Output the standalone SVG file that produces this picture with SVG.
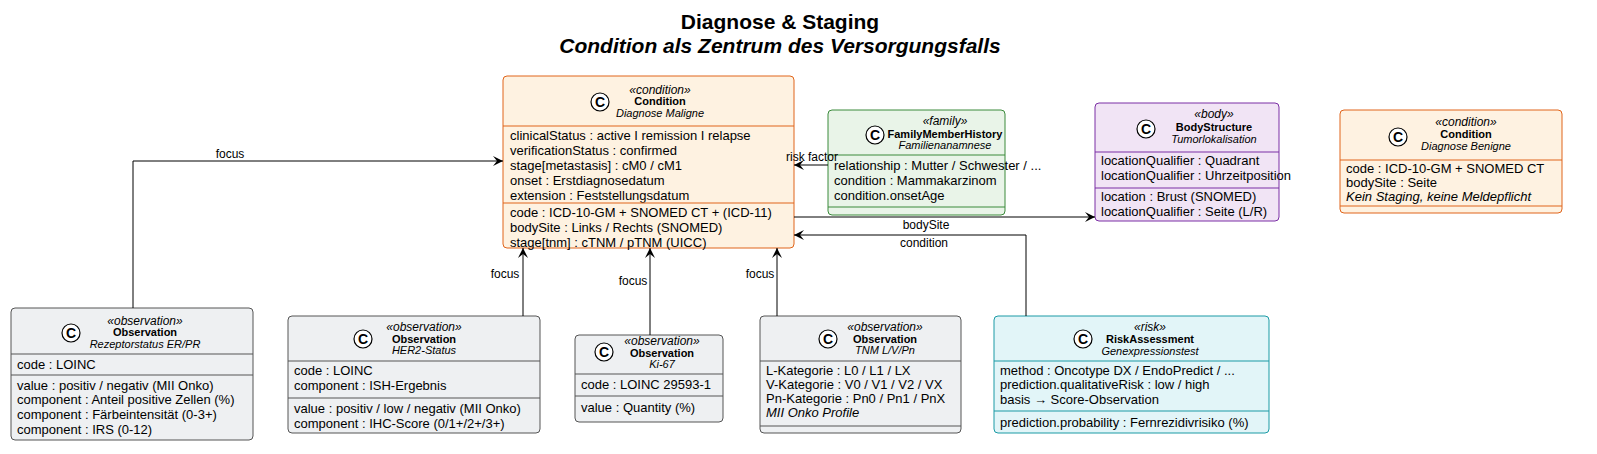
<svg xmlns="http://www.w3.org/2000/svg" width="1597" height="454" viewBox="0 0 1597 454">
<defs>
<marker id="ar" viewBox="0 0 10 10" refX="10" refY="5" markerWidth="10" markerHeight="10" orient="auto" markerUnits="userSpaceOnUse"><path d="M0,0 L10,5 L0,10 L4,5 Z" fill="#000"/></marker>
<g id="ci"><circle r="9" fill="#fff" stroke="#000" stroke-width="1.2"/><text y="5" text-anchor="middle" font-family="Liberation Sans, sans-serif" font-size="14" font-weight="bold">C</text></g>
</defs>
<style>
text{font-family:"Liberation Sans",Arial,sans-serif;fill:#000}
.st{font-size:12px;font-style:italic;text-anchor:middle}
.nm{font-size:11px;font-weight:bold;text-anchor:middle}
.sb{font-size:11px;font-style:italic;text-anchor:middle}
.at{font-size:13px}
.it{font-style:italic}
.lb{font-size:12px}
.cond rect{fill:#fef2e1;stroke:#e0641a}
.cond line{stroke:#e0641a}
.fam rect{fill:#e9f4e8;stroke:#3a8a3a}
.fam line{stroke:#3a8a3a}
.body rect{fill:#f1e4f5;stroke:#7b2fa5}
.body line{stroke:#7b2fa5}
.obs rect{fill:#eef0f2;stroke:#555}
.obs line{stroke:#555}
.risk rect{fill:#e2f5f8;stroke:#1a9aa5}
.risk line{stroke:#1a9aa5}
.conn path{fill:none;stroke:#000;stroke-width:1;marker-end:url(#ar)}
</style>
<rect width="1597" height="454" fill="#fff"/>
<text x="780" y="29" text-anchor="middle" font-size="21" font-weight="bold">Diagnose &amp; Staging</text>
<text x="780" y="53" text-anchor="middle" font-size="21" font-weight="bold" font-style="italic">Condition als Zentrum des Versorgungsfalls</text>

<g id="condMaligne" class="cond">
<rect x="503" y="76" width="291" height="172" rx="4"/>
<use href="#ci" x="600" y="102"/>
<text class="st" x="660" y="94">«condition»</text>
<text class="nm" x="660" y="105">Condition</text>
<text class="sb" x="660" y="117">Diagnose Maligne</text>
<line x1="503" y1="126" x2="794" y2="126"/>
<text class="at" x="510" y="140">clinicalStatus : active I remission I relapse</text>
<text class="at" x="510" y="155">verificationStatus : confirmed</text>
<text class="at" x="510" y="170">stage[metastasis] : cM0 / cM1</text>
<text class="at" x="510" y="185">onset : Erstdiagnosedatum</text>
<text class="at" x="510" y="200">extension : Feststellungsdatum</text>
<line x1="503" y1="203" x2="794" y2="203"/>
<text class="at" x="510" y="217">code : ICD-10-GM + SNOMED CT + (ICD-11)</text>
<text class="at" x="510" y="232">bodySite : Links / Rechts (SNOMED)</text>
<text class="at" x="510" y="247">stage[tnm] : cTNM / pTNM (UICC)</text>
</g>

<g id="family" class="fam">
<rect x="828" y="110" width="177" height="105" rx="4"/>
<use href="#ci" x="875" y="135"/>
<text class="st" x="945" y="125">«family»</text>
<text class="nm" x="945" y="138">FamilyMemberHistory</text>
<text class="sb" x="945" y="149">Familienanamnese</text>
<line x1="828" y1="155" x2="1005" y2="155"/>
<text class="at" x="834" y="170">relationship : Mutter / Schwester / ...</text>
<text class="at" x="834" y="185">condition : Mammakarzinom</text>
<text class="at" x="834" y="200">condition.onsetAge</text>
<line x1="828" y1="207" x2="1005" y2="207"/>
</g>

<g id="bodyStructure" class="body">
<rect x="1095" y="103" width="184" height="118" rx="4"/>
<use href="#ci" x="1146" y="129"/>
<text class="st" x="1214" y="118">«body»</text>
<text class="nm" x="1214" y="131">BodyStructure</text>
<text class="sb" x="1214" y="143">Tumorlokalisation</text>
<line x1="1095" y1="152" x2="1279" y2="152"/>
<text class="at" x="1101" y="165">locationQualifier : Quadrant</text>
<text class="at" x="1101" y="180">locationQualifier : Uhrzeitposition</text>
<line x1="1095" y1="188" x2="1279" y2="188"/>
<text class="at" x="1101" y="201">location : Brust (SNOMED)</text>
<text class="at" x="1101" y="216">locationQualifier : Seite (L/R)</text>
</g>

<g id="condBenigne" class="cond">
<rect x="1340" y="110" width="222" height="103" rx="4"/>
<use href="#ci" x="1398" y="137"/>
<text class="st" x="1466" y="126">«condition»</text>
<text class="nm" x="1466" y="138">Condition</text>
<text class="sb" x="1466" y="150">Diagnose Benigne</text>
<line x1="1340" y1="160" x2="1562" y2="160"/>
<text class="at" x="1346" y="173">code : ICD-10-GM + SNOMED CT</text>
<text class="at" x="1346" y="187">bodySite : Seite</text>
<text class="at it" x="1346" y="201">Kein Staging, keine Meldepflicht</text>
<line x1="1340" y1="206" x2="1562" y2="206"/>
</g>

<g id="obsERPR" class="obs">
<rect x="11" y="308" width="242" height="132" rx="4"/>
<use href="#ci" x="71" y="333"/>
<text class="st" x="145" y="325">«observation»</text>
<text class="nm" x="145" y="336">Observation</text>
<text class="sb" x="145" y="348">Rezeptorstatus ER/PR</text>
<line x1="11" y1="354" x2="253" y2="354"/>
<text class="at" x="17" y="369">code : LOINC</text>
<line x1="11" y1="375" x2="253" y2="375"/>
<text class="at" x="17" y="390">value : positiv / negativ (MII Onko)</text>
<text class="at" x="17" y="404">component : Anteil positive Zellen (%)</text>
<text class="at" x="17" y="419">component : Färbeintensität (0-3+)</text>
<text class="at" x="17" y="434">component : IRS (0-12)</text>
</g>

<g id="obsHER2" class="obs">
<rect x="288" y="316" width="252" height="117" rx="4"/>
<use href="#ci" x="363" y="339"/>
<text class="st" x="424" y="331">«observation»</text>
<text class="nm" x="424" y="343">Observation</text>
<text class="sb" x="424" y="354">HER2-Status</text>
<line x1="288" y1="361" x2="540" y2="361"/>
<text class="at" x="294" y="375">code : LOINC</text>
<text class="at" x="294" y="390">component : ISH-Ergebnis</text>
<line x1="288" y1="398" x2="540" y2="398"/>
<text class="at" x="294" y="413">value : positiv / low / negativ (MII Onko)</text>
<text class="at" x="294" y="428">component : IHC-Score (0/1+/2+/3+)</text>
</g>

<g id="obsKi67" class="obs">
<rect x="575" y="335" width="148" height="87" rx="4"/>
<use href="#ci" x="604" y="352"/>
<text class="st" x="662" y="345">«observation»</text>
<text class="nm" x="662" y="357">Observation</text>
<text class="sb" x="662" y="368">Ki-67</text>
<line x1="575" y1="374" x2="723" y2="374"/>
<text class="at" x="581" y="389">code : LOINC 29593-1</text>
<line x1="575" y1="396" x2="723" y2="396"/>
<text class="at" x="581" y="412">value : Quantity (%)</text>
</g>

<g id="obsTNM" class="obs">
<rect x="760" y="316" width="201" height="117" rx="4"/>
<use href="#ci" x="828" y="339"/>
<text class="st" x="885" y="331">«observation»</text>
<text class="nm" x="885" y="343">Observation</text>
<text class="sb" x="885" y="354">TNM L/V/Pn</text>
<line x1="760" y1="361" x2="961" y2="361"/>
<text class="at" x="766" y="375">L-Kategorie : L0 / L1 / LX</text>
<text class="at" x="766" y="389">V-Kategorie : V0 / V1 / V2 / VX</text>
<text class="at" x="766" y="403">Pn-Kategorie : Pn0 / Pn1 / PnX</text>
<text class="at it" x="766" y="417">MII Onko Profile</text>
<line x1="760" y1="426" x2="961" y2="426"/>
</g>

<g id="riskAssessment" class="risk">
<rect x="994" y="316" width="275" height="117" rx="4"/>
<use href="#ci" x="1083" y="339"/>
<text class="st" x="1150" y="331">«risk»</text>
<text class="nm" x="1150" y="343">RiskAssessment</text>
<text class="sb" x="1150" y="355">Genexpressionstest</text>
<line x1="994" y1="361" x2="1269" y2="361"/>
<text class="at" x="1000" y="375">method : Oncotype DX / EndoPredict / ...</text>
<text class="at" x="1000" y="389">prediction.qualitativeRisk : low / high</text>
<text class="at" x="1000" y="404">basis → Score-Observation</text>
<line x1="994" y1="411" x2="1269" y2="411"/>
<text class="at" x="1000" y="427">prediction.probability : Fernrezidivrisiko (%)</text>
</g>

<g class="conn">
<path d="M133,308 V161 H503"/>
<path d="M523,316 V248"/>
<path d="M650,335 V248"/>
<path d="M777,316 V248"/>
<path d="M828,165 H794"/>
<path d="M794,217 H1095"/>
<path d="M1026,316 V235 H794"/>
<text class="lb" x="230" y="158" text-anchor="middle">focus</text>
<text class="lb" x="505" y="278" text-anchor="middle">focus</text>
<text class="lb" x="633" y="285" text-anchor="middle">focus</text>
<text class="lb" x="760" y="278" text-anchor="middle">focus</text>
<text class="lb" x="812" y="161" text-anchor="middle">risk factor</text>
<text class="lb" x="926" y="229" text-anchor="middle">bodySite</text>
<text class="lb" x="924" y="247" text-anchor="middle">condition</text>
</g>
</svg>
